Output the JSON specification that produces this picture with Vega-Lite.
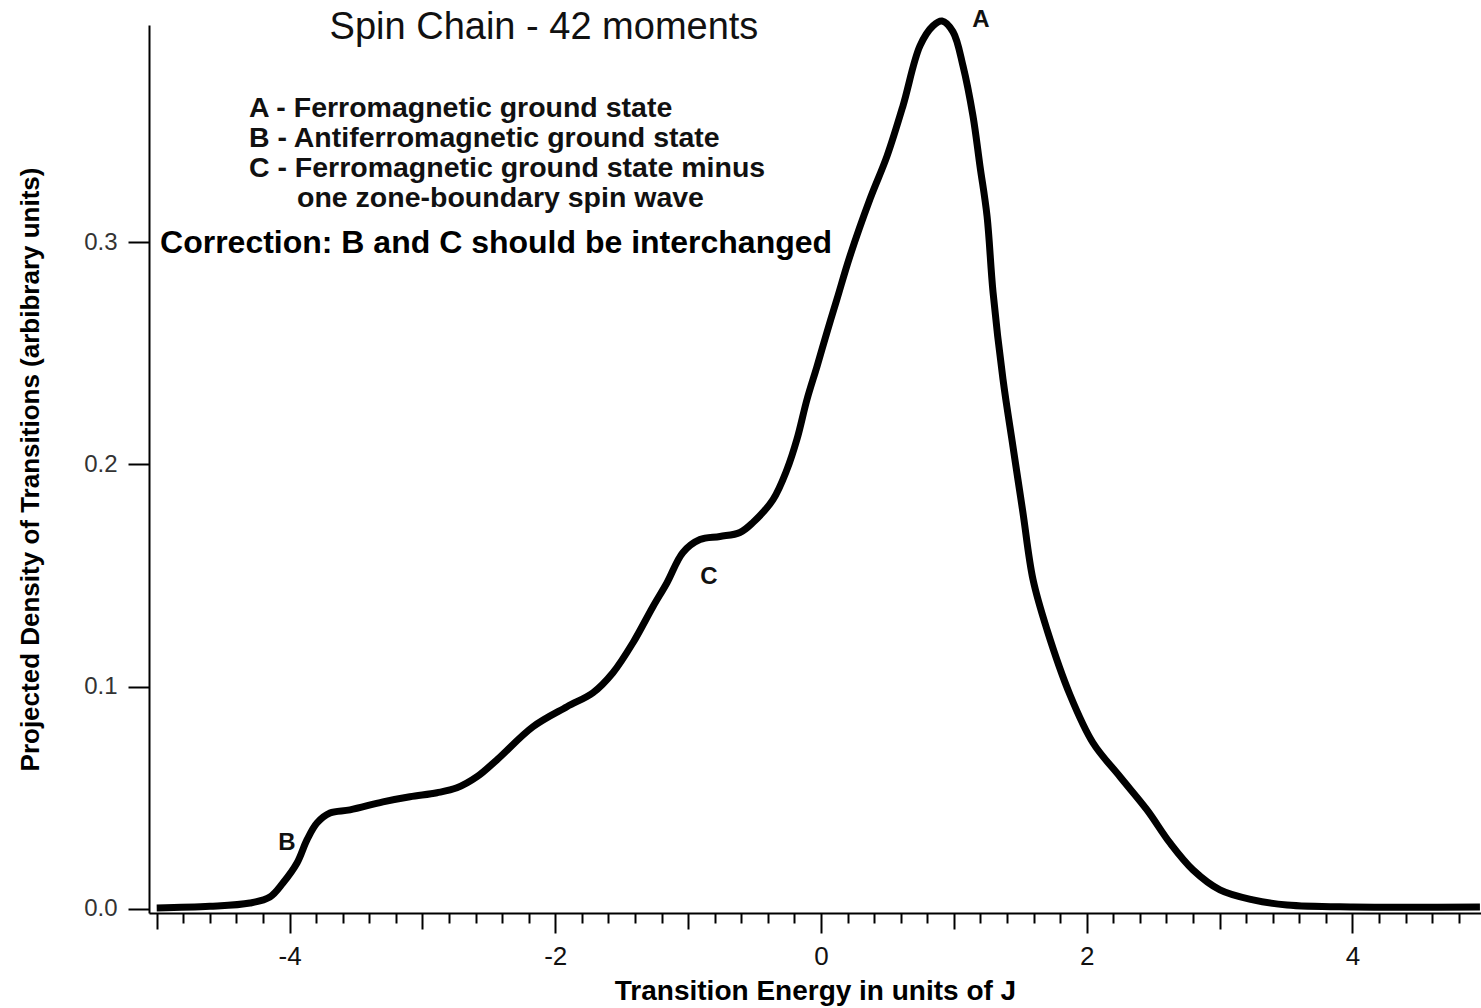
{
  "$schema": "https://vega.github.io/schema/vega-lite/v6.json",
  "width": 1332,
  "height": 888,
  "autosize": {"type": "none"},
  "padding": {"left": 149, "top": 25, "right": 0, "bottom": 95},
  "background": "white",
  "config": {
    "view": {"stroke": null},
    "axis": {
      "domainColor": "black",
      "domainWidth": 2,
      "tickColor": "black",
      "tickWidth": 2,
      "grid": false,
      "labelFont": "Liberation Sans",
      "titleFont": "Liberation Sans",
      "labelColor": "#111",
      "titleColor": "black"
    }
  },
  "data": {
    "values": [
      {"x": -5.0, "y": 0.0005},
      {"x": -4.6, "y": 0.0012},
      {"x": -4.298, "y": 0.0027},
      {"x": -4.148, "y": 0.0054},
      {"x": -4.05, "y": 0.0117},
      {"x": -3.944, "y": 0.0207},
      {"x": -3.869, "y": 0.0311},
      {"x": -3.794, "y": 0.0387},
      {"x": -3.696, "y": 0.0432},
      {"x": -3.545, "y": 0.0446},
      {"x": -3.297, "y": 0.0482},
      {"x": -3.094, "y": 0.0505},
      {"x": -2.89, "y": 0.0523},
      {"x": -2.74, "y": 0.0545},
      {"x": -2.589, "y": 0.0595},
      {"x": -2.439, "y": 0.0671},
      {"x": -2.168, "y": 0.082},
      {"x": -1.912, "y": 0.091},
      {"x": -1.716, "y": 0.0973},
      {"x": -1.566, "y": 0.1063},
      {"x": -1.415, "y": 0.1198},
      {"x": -1.265, "y": 0.136},
      {"x": -1.159, "y": 0.1468},
      {"x": -1.039, "y": 0.1604},
      {"x": -0.911, "y": 0.1662},
      {"x": -0.76, "y": 0.1676},
      {"x": -0.61, "y": 0.1694},
      {"x": -0.512, "y": 0.1739},
      {"x": -0.361, "y": 0.1842},
      {"x": -0.256, "y": 0.1977},
      {"x": -0.181, "y": 0.2113},
      {"x": -0.105, "y": 0.2293},
      {"x": -0.03, "y": 0.2441},
      {"x": 0.045, "y": 0.2595},
      {"x": 0.12, "y": 0.2743},
      {"x": 0.218, "y": 0.2937},
      {"x": 0.369, "y": 0.3194},
      {"x": 0.497, "y": 0.3387},
      {"x": 0.617, "y": 0.3613},
      {"x": 0.745, "y": 0.3883},
      {"x": 0.843, "y": 0.3973},
      {"x": 0.911, "y": 0.3995},
      {"x": 0.994, "y": 0.3946},
      {"x": 1.069, "y": 0.3793},
      {"x": 1.144, "y": 0.3568},
      {"x": 1.197, "y": 0.3342},
      {"x": 1.25, "y": 0.3117},
      {"x": 1.295, "y": 0.2775},
      {"x": 1.37, "y": 0.2383},
      {"x": 1.445, "y": 0.2081},
      {"x": 1.52, "y": 0.1784},
      {"x": 1.596, "y": 0.1482},
      {"x": 1.701, "y": 0.1257},
      {"x": 1.874, "y": 0.0964},
      {"x": 2.047, "y": 0.0748},
      {"x": 2.251, "y": 0.0595},
      {"x": 2.454, "y": 0.0446},
      {"x": 2.627, "y": 0.0297},
      {"x": 2.8, "y": 0.0176},
      {"x": 3.003, "y": 0.0086},
      {"x": 3.252, "y": 0.0041},
      {"x": 3.508, "y": 0.0018},
      {"x": 4.004, "y": 0.0009},
      {"x": 4.96, "y": 0.0009}
    ]
  },
  "resolve": {"axis": {"x": "independent"}},
  "layer": [
    {
      "mark": {"type": "line", "color": "black", "strokeWidth": 7, "interpolate": "catmull-rom", "clip": false},
      "encoding": {
        "x": {
          "field": "x", "type": "quantitative",
          "scale": {"domain": [-5.058, 4.968], "nice": false, "zero": false},
          "axis": {
            "orient": "bottom",
            "values": [-4, -2, 0, 2, 4],
            "labelExpr": "replace(datum.label, '−', '-')",
            "tickSize": 20,
            "labelFontSize": 26,
            "labelPadding": 10,
            "title": "Transition Energy in units of J",
            "titleFontSize": 28,
            "titleFontWeight": "bold",
            "titlePadding": 8
          }
        },
        "y": {
          "field": "y", "type": "quantitative",
          "scale": {"domain": [-0.0018, 0.3977], "nice": false, "zero": false},
          "axis": {
            "values": [0, 0.1, 0.2, 0.3],
            "format": ".1f",
            "tickSize": 21,
            "labelFontSize": 24,
            "labelPadding": 11,
            "labelColor": "#333",
            "title": "Projected Density of Transitions (arbibrary units)",
            "titleFontSize": 26,
            "titleFontWeight": "bold",
            "titlePadding": 40
          }
        }
      }
    },
    {
      "mark": {"type": "rule", "strokeOpacity": 0},
      "encoding": {
        "x": {
          "field": "x", "type": "quantitative",
          "axis": {"orient": "bottom", "values": [-5, -3, -1, 1, 3], "tickSize": 16, "labels": false, "domain": false, "title": null}
        }
      }
    },
    {
      "mark": {"type": "rule", "strokeOpacity": 0},
      "encoding": {
        "x": {
          "field": "x", "type": "quantitative",
          "axis": {"orient": "bottom", "values": [-4.8, -4.6, -4.4, -4.2, -3.8, -3.6, -3.4, -3.2, -2.8, -2.6, -2.4, -2.2, -1.8, -1.6, -1.4, -1.2, -0.8, -0.6, -0.4, -0.2, 0.2, 0.4, 0.6, 0.8, 1.2, 1.4, 1.6, 1.8, 2.2, 2.4, 2.6, 2.8, 3.2, 3.4, 3.6, 3.8, 4.2, 4.4, 4.6, 4.8], "tickSize": 10, "labels": false, "domain": false, "title": null}
        }
      }
    },
    {
      "data": {"values": [
        {"label": "Spin Chain - 42 moments", "x": -2.085, "y": 0.3963}
      ]},
      "mark": {"type": "text", "align": "center", "baseline": "middle", "fontSize": 38, "fontWeight": "normal", "font": "Liberation Sans", "color": "#111"},
      "encoding": {
        "x": {"field": "x", "type": "quantitative", "axis": null},
        "y": {"field": "y", "type": "quantitative"},
        "text": {"field": "label"}
      }
    },
    {
      "data": {"values": [
        {"label": "A - Ferromagnetic ground state", "x": -4.306, "y": 0.3603},
        {"label": "B - Antiferromagnetic ground state", "x": -4.306, "y": 0.3468},
        {"label": "C - Ferromagnetic ground state minus", "x": -4.306, "y": 0.3333},
        {"label": "one zone-boundary spin wave", "x": -3.944, "y": 0.3198}
      ]},
      "mark": {"type": "text", "align": "left", "baseline": "middle", "fontSize": 28.5, "fontWeight": "bold", "font": "Liberation Sans", "color": "#111"},
      "encoding": {
        "x": {"field": "x", "type": "quantitative", "axis": null},
        "y": {"field": "y", "type": "quantitative"},
        "text": {"field": "label"}
      }
    },
    {
      "data": {"values": [
        {"label": "Correction: B and C should be interchanged", "x": -4.975, "y": 0.2996}
      ]},
      "mark": {"type": "text", "align": "left", "baseline": "middle", "fontSize": 32, "fontWeight": "bold", "font": "Liberation Sans", "color": "black"},
      "encoding": {
        "x": {"field": "x", "type": "quantitative", "axis": null},
        "y": {"field": "y", "type": "quantitative"},
        "text": {"field": "label"}
      }
    },
    {
      "data": {"values": [
        {"label": "A", "x": 1.204, "y": 0.3999},
        {"label": "B", "x": -4.02, "y": 0.0297},
        {"label": "C", "x": -0.843, "y": 0.1493}
      ]},
      "mark": {"type": "text", "align": "center", "baseline": "middle", "fontSize": 24, "fontWeight": "bold", "font": "Liberation Sans", "color": "#111", "clip": false},
      "encoding": {
        "x": {"field": "x", "type": "quantitative", "axis": null},
        "y": {"field": "y", "type": "quantitative"},
        "text": {"field": "label"}
      }
    }
  ]
}
